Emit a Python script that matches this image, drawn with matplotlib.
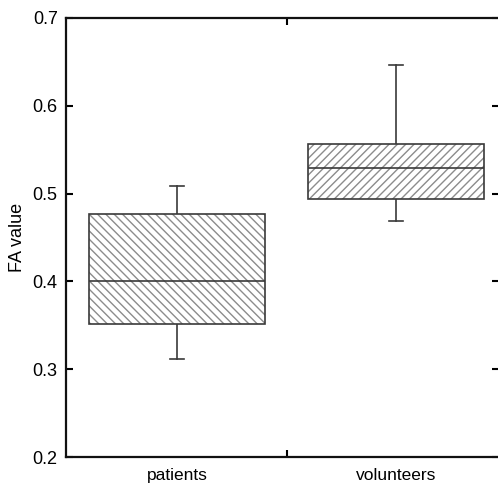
import matplotlib
matplotlib.use("Agg")
import matplotlib.pyplot as plt
from matplotlib.patches import PathPatch

plt.rcParams["font.family"] = ["Liberation Sans", "DejaVu Sans"]
plt.rcParams["hatch.linewidth"] = 1.0

groups = ["patients", "volunteers"]
whislo = [0.312, 0.469]
q1 = [0.351, 0.494]
med = [0.401, 0.529]
q3 = [0.477, 0.557]
whishi = [0.509, 0.646]
hatches = ["\\" * 4, "/" * 4]

stats = []
for i, g in enumerate(groups):
    stats.append(dict(label=g, whislo=whislo[i], q1=q1[i], med=med[i],
                      q3=q3[i], whishi=whishi[i], fliers=[]))

fig = plt.figure(figsize=(4.98, 4.84), dpi=100)
ax = fig.add_axes([66 / 498, 1 - 457 / 484, (499 - 66) / 498, (457 - 18) / 484])

lc = "#3a3a3a"
bp = ax.bxp(stats, positions=[0, 1], widths=0.8, patch_artist=True,
            showfliers=False,
            boxprops=dict(facecolor="white", edgecolor=lc, linewidth=1.2, zorder=3),
            medianprops=dict(color=lc, linewidth=1.2, zorder=4),
            whiskerprops=dict(color=lc, linewidth=1.2),
            capprops=dict(color=lc, linewidth=1.2),
            capwidths=0.065)

# grey hatch layer under the dark box outline
for box, h in zip(bp["boxes"], hatches):
    box.set_facecolor("none")
    hp = PathPatch(box.get_path(), facecolor="white", edgecolor="#8c8c8c",
                   hatch=h, linewidth=0, zorder=2.5)
    ax.add_patch(hp)

ax.set_xlim(-0.507, 1.47)
ax.set_ylim(0.2, 0.7)
ax.set_yticks([0.2, 0.3, 0.4, 0.5, 0.6, 0.7])
ax.set_yticklabels(["0.2", "0.3", "0.4", "0.5", "0.6", "0.7"])
ax.set_xticks([0, 1])
ax.set_xticklabels(groups)
ax.set_xticks([0.5], minor=True)
ax.tick_params(axis="x", which="major", length=0, pad=8, labelsize=12.5)
ax.tick_params(axis="x", which="minor", direction="in", length=5, width=1.5,
               top=True, bottom=True)
ax.tick_params(axis="y", direction="in", length=5, width=1.5, right=True,
               labelsize=13, pad=6)
ax.set_ylabel("FA value", fontsize=13, labelpad=5)

for s in ["left", "bottom", "top"]:
    ax.spines[s].set_linewidth(1.6)
    ax.spines[s].set_color("#111111")
ax.spines["right"].set_visible(False)

fig.savefig("out.png", dpi=100)
